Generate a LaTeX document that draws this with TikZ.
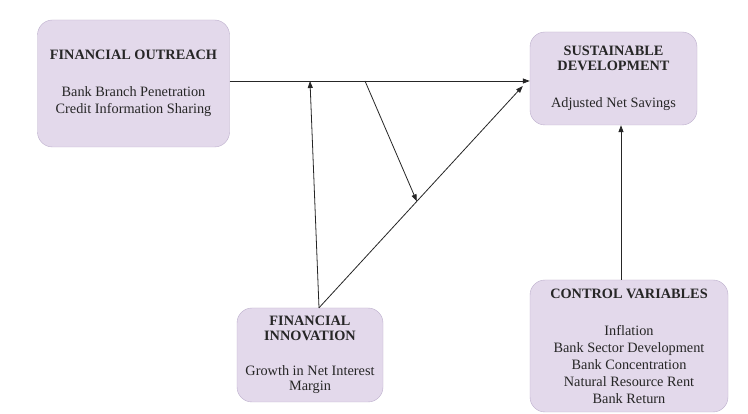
\documentclass[tikz,border=0pt]{standalone}
\usepackage{fontspec}
\setmainfont{Liberation Serif}
\usetikzlibrary{positioning,arrows.meta,calc}
\definecolor{boxfill}{RGB}{227,217,235}
\definecolor{boxline}{RGB}{188,174,204}

\begin{document}
\begin{tikzpicture}[x=1pt,y=-1pt,font=\fontsize{14.3}{15}\selectfont,
  >={Triangle[length=7pt,width=5pt]},
  box/.style={draw=boxline,fill=boxfill,rounded corners=15pt,align=center,
    inner sep=2pt,text=black!85},
  link/.style={->,line width=0.8pt,black!85}]
  \useasboundingbox[fill=white] (0,0) rectangle (748,414);
  \node[box,minimum width=192pt,minimum height=127pt] (fo) at (133.5,83.5)
    {\textbf{FINANCIAL OUTREACH}\\[22pt]Bank Branch Penetration\\[2pt]Credit Information Sharing};
  \node[box,minimum width=167pt,minimum height=93pt] (sd) at (613.5,78.5)
    {\textbf{SUSTAINABLE}\\\textbf{DEVELOPMENT}\\[22pt]Adjusted Net Savings};
  \node[box,minimum width=146pt,minimum height=94pt] (fi) at (310,355)
    {\textbf{FINANCIAL}\\\textbf{INNOVATION}\\[20pt]Growth in Net Interest\\Margin};
  \node[box,minimum width=198pt,minimum height=132pt] (cv) at (629,346)
    {\textbf{CONTROL VARIABLES}\\[22pt]Inflation\\[2pt]Bank Sector Development\\[2pt]Bank Concentration\\[2pt]Natural Resource Rent\\[2pt]Bank Return};
  % junctions on the main path
  \coordinate (jv) at (310,81);
  \coordinate (jm) at (365,81);
  \coordinate (fitop) at ([xshift=9pt]fi.north);
  \coordinate (sdin) at ([shift={(-7pt,-7.5pt)}]sd.west);
  \coordinate (mid) at ($(fitop)!0.48!(sdin)$);
  \draw[link] ([yshift=2.5pt]fo.east) -- (sd.west |- jv);
  \draw[link] (fitop) -- (jv);
  \draw[link] (fitop) -- (sdin);
  \draw[link] (jm) -- (mid);
  \draw[link] ([xshift=-8pt]cv.north) -- ([xshift=-8pt]cv.north |- sd.south);
\end{tikzpicture}
\end{document}
